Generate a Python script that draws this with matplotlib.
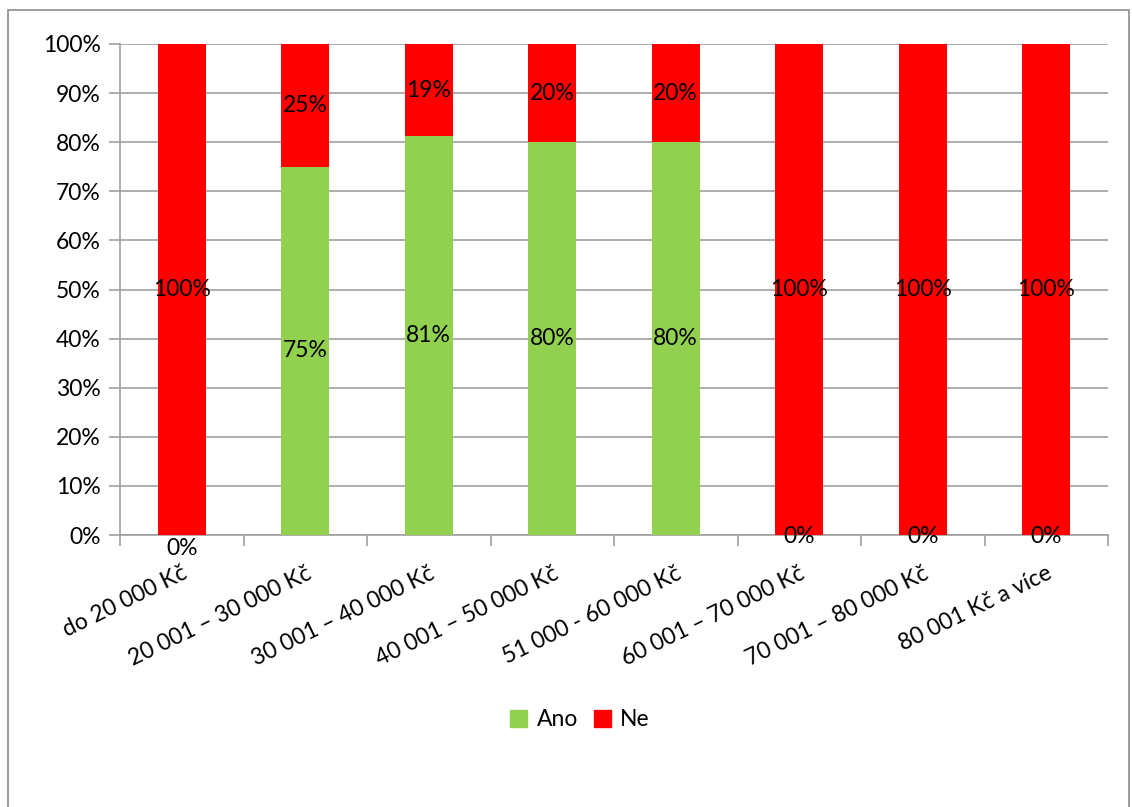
import matplotlib
matplotlib.use("Agg")
import matplotlib.pyplot as plt
from matplotlib.patches import Rectangle, Patch
from matplotlib.ticker import MultipleLocator, PercentFormatter

plt.rcParams["font.family"] = ["Lato", "DejaVu Sans"]

categories = ["do 20 000 Kč", "20 001 – 30 000 Kč", "30 001 – 40 000 Kč",
              "40 001 – 50 000 Kč", "51 000 - 60 000 Kč", "60 001 – 70 000 Kč",
              "70 001 – 80 000 Kč", "80 001 Kč a více"]
ano = [0, 75, 81.25, 80, 80, 0, 0, 0]
ne = [100, 25, 18.75, 20, 20, 100, 100, 100]

green = "#92D050"
red = "#FF0000"
grid_col = "#A0A0A0"
fs = 16.5

fig = plt.figure(figsize=(11.32, 8.07), dpi=100)
# chart area border
fig.patches.append(Rectangle((8 / 1132, -0.1), 1121 / 1132, 1.1 - 10 / 807,
                             transform=fig.transFigure, fill=False,
                             edgecolor="#8C8C8C", linewidth=1.2))

ax = fig.add_axes([120 / 1132, 272 / 807, 988 / 1132, 491 / 807])
x = list(range(len(categories)))
w = 0.39
ax.bar(x, ano, width=w, color=green, label="Ano", zorder=3)
ax.bar(x, ne, width=w, bottom=ano, color=red, label="Ne", zorder=3)

for i in x:
    # green segment labels
    if ano[i] == 0:
        dy = -10 if i == 0 else -1
        ax.annotate("0%", (i, 0), xytext=(0, dy), textcoords="offset points",
                    ha="center", va="center", fontsize=fs, zorder=5)
    else:
        ax.text(i, ano[i] / 2, f"{ano[i]:.0f}%", ha="center", va="center",
                fontsize=fs, zorder=5)
    ax.text(i, ano[i] + ne[i] / 2, f"{ne[i]:.0f}%", ha="center", va="center",
            fontsize=fs, zorder=5)

ax.set_xlim(-0.5, len(categories) - 0.5)
ax.set_ylim(0, 100)
ax.yaxis.set_major_locator(MultipleLocator(10))
ax.yaxis.set_major_formatter(PercentFormatter(decimals=0))
ax.grid(axis="y", color=grid_col, linewidth=1.2, zorder=0)

ax.set_xticks(x)
ax.set_xticklabels(categories, rotation=26, ha="right", rotation_mode="anchor",
                   fontsize=fs)
ax.set_xticks([i - 0.5 for i in range(len(categories) + 1)], minor=True)
ax.tick_params(axis="x", which="major", length=0, pad=20)
ax.tick_params(axis="x", which="minor", length=8, color=grid_col, width=1.2,
               direction="out")
ax.tick_params(axis="y", length=8, color=grid_col, width=1.2, labelsize=fs,
               pad=6)

for side in ["top", "right"]:
    ax.spines[side].set_visible(False)
for side in ["left", "bottom"]:
    ax.spines[side].set_color(grid_col)
    ax.spines[side].set_linewidth(1.2)

handles = [Patch(color=green, label="Ano"), Patch(color=red, label="Ne")]
fig.legend(handles=handles, loc="center", bbox_to_anchor=(580 / 1132, 1 - 720 / 807),
           ncol=2, frameon=False, fontsize=fs, handlelength=0.75, handleheight=0.75,
           handletextpad=0.4, columnspacing=0.7)

fig.savefig("out.png", dpi=100)
